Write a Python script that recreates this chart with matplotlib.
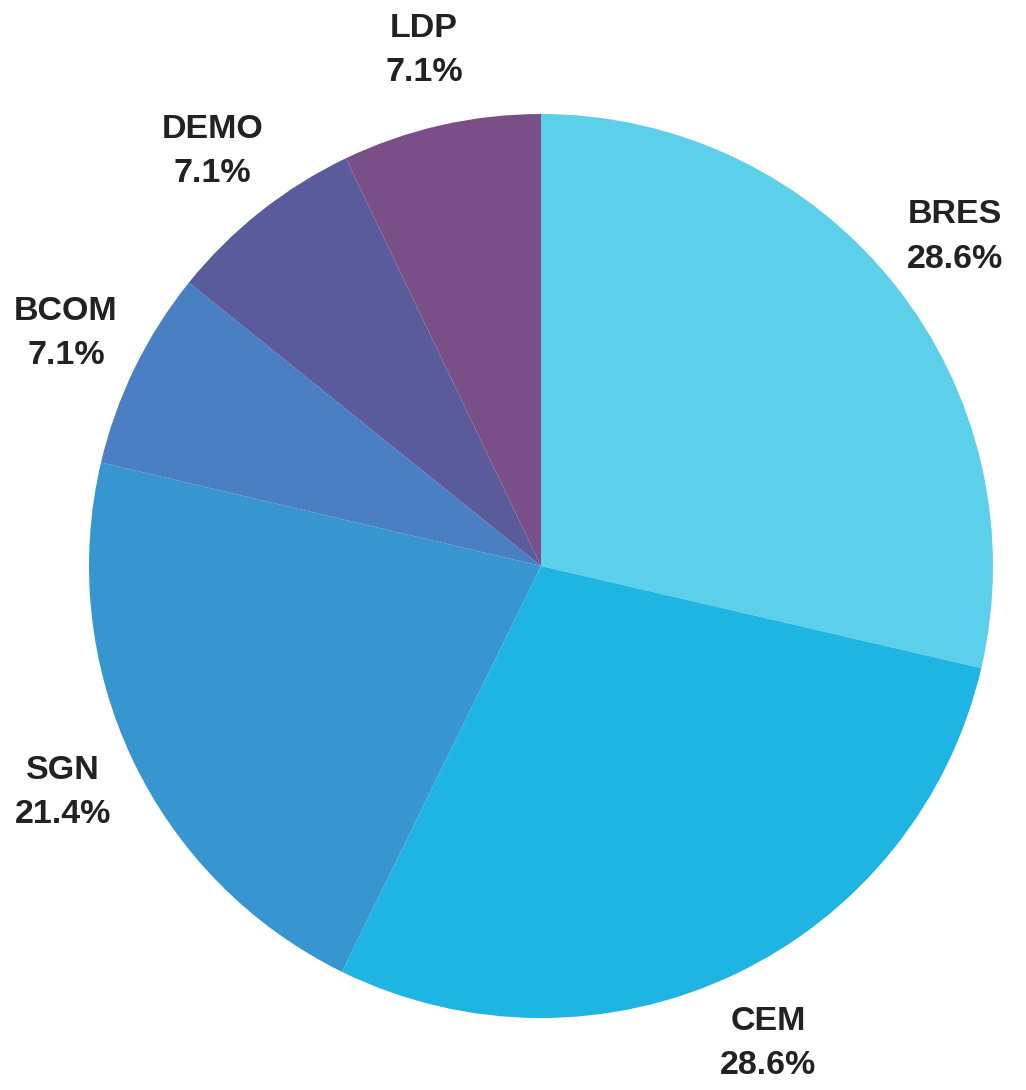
import matplotlib.pyplot as plt

labels = ["BRES", "CEM", "SGN", "BCOM", "DEMO", "LDP"]
values = [28.6, 28.6, 21.4, 7.1, 7.1, 7.1]
colors = ["#5ccfea", "#1fb5e3", "#3796d0", "#4a80c3", "#5a5b9b", "#7a4f88"]

fig = plt.figure(figsize=(10.26, 10.90), dpi=100)
ax = fig.add_axes([89 / 1026, 72 / 1090, 904 / 1026, 904 / 1090])

texts = [f"{l}\n{v:.1f}%" for l, v in zip(labels, values)]
wedges, txts = ax.pie(values, labels=texts, colors=colors, startangle=90,
                      counterclock=False, labeldistance=1.17,
                      wedgeprops=dict(linewidth=0),
                      textprops=dict(fontsize=24.5, fontweight="bold",
                                     family="Liberation Sans", color="#222222",
                                     ha="center", va="center", linespacing=1.55))
ax.set_xlim(-1, 1)
ax.set_ylim(-1, 1)
ax.set_aspect("equal")
ax.axis("off")

fig.savefig("out.png", dpi=100)
